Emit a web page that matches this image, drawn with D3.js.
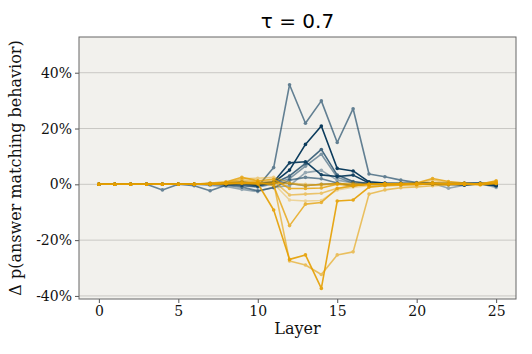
<!DOCTYPE html>
<html>
<head>
<meta charset="utf-8">
<script src="https://cdn.jsdelivr.net/npm/d3@7"></script>
<style>
  body { margin: 0; background: #ffffff; }
  svg { display: block; }
</style>
</head>
<body>
<div id="chart"></div>
<script>
// layers on the x axis
var layers = [0, 1, 2, 3, 4, 5, 6, 7, 8, 9, 10, 11, 12, 13, 14, 15, 16, 17, 18, 19, 20, 21, 22, 23, 24, 25];

// blue runs (values in %)
var blueA = [0, 0, 0, 0, 0, 0, 0, 0, 0, -0.3, -0.8, 6.0, 35.7, 21.9, 29.9, 15.0, 27.1, 3.7, 2.7, 1.5, 0.6, 0.3, 0.2, 0.1, 0.3, -0.3];
var blueB = [0, 0, 0, 0, 0, 0, 0, 0.3, 0.2, 0.5, -0.3, 0.6, 5.1, 14.3, 20.9, 5.7, 4.8, 0.9, 0.5, 0.3, 0.2, 0.1, 0.3, 0.4, 0.2, -0.2];
var blueC = [0, 0, 0, 0, 0, 0, 0, 0, 0.5, 0.8, 0.2, 0.8, 7.7, 8.1, 3.4, 2.8, 3.3, 0.5, 0.2, 0, 0.3, 0.5, 0.2, 0.4, 0.5, 0];
var blueD = [0, 0, 0, 0, 0, 0, 0, 0, -0.2, 0.2, -0.5, 0.4, 3.0, 7.5, 12.5, 3.3, 1.0, 0.3, 0, 0.2, 0.3, 0, 0.1, -0.3, 0.2, -0.5];
var blueE = [0, 0, 0, 0, 0, 0, 0, 0, 0, -0.5, -1.0, 0.2, 2.0, 6.5, 10.8, 2.5, 0.5, 0.4, 0.1, 0.4, 0.5, 0.3, -0.2, 0.2, 0, -0.4];
var blueF = [0, 0, 0, 0, 0, 0, 0, -0.4, -0.8, -1.8, -2.6, -1.0, -0.5, 4.2, 5.0, 1.5, 0.5, 0, -0.3, 0.2, 0, 0.4, -1.4, -0.3, 0.2, -1.1];
var blueG = [0, 0, 0, 0, -2.0, 0, -0.5, -2.3, -0.3, -1.0, -2.3, -1.2, 1.5, 2.5, 2.0, 0.5, -0.5, 0.2, 0.3, 0.1, 0.2, 0.2, 0.3, 0.1, 0.2, -0.6];
var blueH = [0, 0, 0, 0, 0, 0, 0, 0, 0.5, 0.3, 0.5, 0.9, 0.3, -0.5, 0, 0.3, -0.5, 0.2, 0, 0.3, 0.1, 0.2, 0, -0.2, 0.3, 0];

// orange runs (values in %)
var orangeA = [0, 0, 0, 0, 0, 0, 0, 0, 0.3, 0.5, 0.3, -9.2, -26.9, -25.3, -37.3, -6.0, -5.6, -1.0, -0.5, -0.3, 0, 0.2, 0.1, 0, 0.2, 0.5];
var orangeB = [0, 0, 0, 0, 0, 0, 0, 0, 0.5, 0.8, 0.5, 0.5, -27.5, -28.9, -32.3, -25.3, -24.2, -3.5, -2.0, -1.2, -0.9, -0.5, -0.2, 0, 0.3, 0.5];
var orangeC = [0, 0, 0, 0, 0, 0, 0, 0, 0.2, 0.5, 0.8, -0.5, -14.8, -7.1, -6.5, -1.5, -0.5, 0, 0.2, 0, -0.2, 0.5, 0.2, 0, -0.2, 0.3];
var orangeD = [0, 0, 0, 0, 0, 0, 0, 0.3, 0.5, 1.0, 0.5, 0.3, -5.6, -6.0, -5.8, -2.0, -1.0, -0.5, 0, 0.3, 0, 0.3, 0, 0.2, 0, 0.8];
var orangeE = [0, 0, 0, 0, 0, 0, 0, 0, 0.8, 1.5, 1.0, 1.2, -3.8, -3.5, -3.2, -1.4, -0.5, 0, 0.2, 0.3, 0, 0.6, 0.3, 0, 0.3, 1.0];
var orangeF = [0, 0, 0, 0, 0, 0, 0, 0.5, 0.8, 2.5, 1.3, 1.8, -1.5, -1.5, -1.3, 0, -0.5, 0, 0, 0.2, 0.5, 2.1, 1.0, 0.5, 0, 1.3];
var orangeG = [0, 0, 0, 0, 0, 0, 0, 0.2, 0.5, 2.0, 2.2, 2.5, 0.5, 0, -0.3, 0.2, 0.4, -0.2, 0.3, 0, 0.3, 1.5, 0.6, 0.2, 0, 0.2];
var orangeH = [0, 0, 0, 0, 0, 0, 0, 0, 0.2, 0.3, 0, 0.5, 0.3, -0.5, 0, 0.3, 0, 0, 0, 0, 0, 0.3, 0.2, 0.1, 0, 0.5];

var xTicks = [0, 5, 10, 15, 20, 25];
var yTicks = [-40, -20, 0, 20, 40];
var titre = "\u03C4 = 0.7";

var width = 532, height = 354;
var pLeft = 79, pRight = 516, pTop = 37, pBottom = 299;

var blue = "#0b3b5c", orange = "#e69f00";
// ordre de dessin : bleu puis orange
var series = [
    { v: blueA, c: blue, o: 0.62 },
    { v: blueG, c: blue, o: 0.6 },
    { v: blueF, c: blue, o: 0.4 },
    { v: blueE, c: blue, o: 0.5 },
    { v: blueH, c: blue, o: 0.5 },
    { v: blueD, c: blue, o: 0.75 },
    { v: blueC, c: blue, o: 0.95 },
    { v: blueB, c: blue, o: 1 },
    { v: orangeD, c: orange, o: 0.35 },
    { v: orangeG, c: orange, o: 0.45 },
    { v: orangeE, c: orange, o: 0.55 },
    { v: orangeB, c: orange, o: 0.6 },
    { v: orangeH, c: orange, o: 0.65 },
    { v: orangeC, c: orange, o: 0.75 },
    { v: orangeF, c: orange, o: 0.8 },
    { v: orangeA, c: orange, o: 0.9 }
];

var svg = d3.select("#chart").append("svg")
    .attr("width", width)
    .attr("height", height);

var x = d3.scaleLinear().domain([-1.25, 26.25]).range([pLeft, pRight]);
var y = d3.scaleLinear().domain([-41.1, 52.8]).range([pBottom, pTop]);

// fond
svg.append("rect")
    .attr("x", pLeft).attr("y", pTop)
    .attr("width", pRight - pLeft).attr("height", pBottom - pTop)
    .attr("fill", "#f2f1ed");

// grille horizontale
svg.append("g").selectAll("line")
    .data(yTicks)
    .enter().append("line")
    .attr("x1", pLeft).attr("x2", pRight)
    .attr("y1", function(d) { return y(d); })
    .attr("y2", function(d) { return y(d); })
    .attr("stroke", "#c9c8c4")
    .attr("stroke-width", 1);

svg.append("clipPath").attr("id", "clip")
    .append("rect")
    .attr("x", pLeft).attr("y", pTop)
    .attr("width", pRight - pLeft).attr("height", pBottom - pTop);

var line = d3.line()
    .x(function(d, i) { return x(layers[i]); })
    .y(function(d) { return y(d); });

var plot = svg.append("g").attr("clip-path", "url(#clip)");

series.forEach(function(s) {
    var g = plot.append("g").attr("opacity", s.o);
    g.append("path")
        .datum(s.v)
        .attr("d", line)
        .attr("fill", "none")
        .attr("stroke", s.c)
        .attr("stroke-width", 1.6)
        .attr("stroke-linejoin", "round");
    g.selectAll("circle")
        .data(s.v)
        .enter().append("circle")
        .attr("cx", function(d, i) { return x(layers[i]); })
        .attr("cy", function(d) { return y(d); })
        .attr("r", 1.8)
        .attr("fill", s.c);
});

// axes
var xAxis = svg.append("g")
    .attr("transform", "translate(0," + pBottom + ")")
    .call(d3.axisBottom(x).tickValues(xTicks).tickSize(4).tickPadding(3).tickFormat(d3.format("d")));
var yAxis = svg.append("g")
    .attr("transform", "translate(" + pLeft + ",0)")
    .call(d3.axisLeft(y).tickValues(yTicks).tickSize(4).tickPadding(3).tickFormat(function(d) { return d + "%"; }));

[xAxis, yAxis].forEach(function(a) {
    a.select(".domain").remove();
    a.selectAll(".tick line").attr("stroke", "#555");
    a.selectAll(".tick text")
        .attr("fill", "#111")
        .attr("font-family", "DejaVu Serif")
        .attr("font-size", 14);
});

// cadre
svg.append("rect")
    .attr("x", pLeft).attr("y", pTop)
    .attr("width", pRight - pLeft).attr("height", pBottom - pTop)
    .attr("fill", "none")
    .attr("stroke", "#666")
    .attr("stroke-width", 1);

// titre
svg.append("text")
    .attr("x", (pLeft + pRight) / 2)
    .attr("y", 28)
    .attr("text-anchor", "middle")
    .attr("font-family", "DejaVu Sans")
    .attr("font-size", 20)
    .attr("fill", "#000")
    .text(titre);

svg.append("text")
    .attr("x", (pLeft + pRight) / 2)
    .attr("y", 334)
    .attr("text-anchor", "middle")
    .attr("font-family", "DejaVu Serif")
    .attr("font-size", 16)
    .attr("fill", "#111")
    .text("Layer");

svg.append("text")
    .attr("transform", "translate(21," + ((pTop + pBottom) / 2) + ") rotate(-90)")
    .attr("text-anchor", "middle")
    .attr("font-family", "DejaVu Serif")
    .attr("font-size", 16)
    .attr("fill", "#111")
    .text("\u0394 p(answer matching behavior)");
</script>
</body>
</html>
